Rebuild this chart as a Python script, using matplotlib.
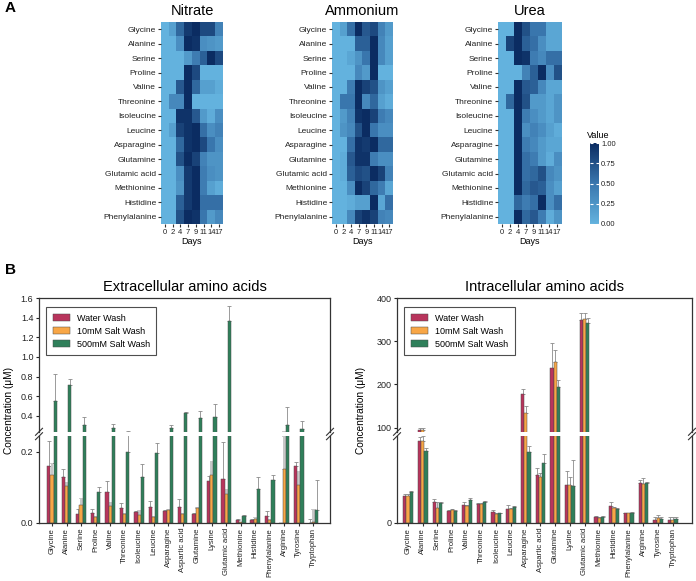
import matplotlib
matplotlib.use('Agg')
import matplotlib.pyplot as plt
import numpy as np
from matplotlib.colors import LinearSegmentedColormap
from matplotlib.lines import Line2D

plt.rcParams['font.family'] = ['Liberation Sans', 'DejaVu Sans']

# ---------------- Panel A data ----------------
heat_rows = ['Glycine', 'Alanine', 'Serine', 'Proline', 'Valine', 'Threonine', 'Isoleucine',
             'Leucine', 'Asparagine', 'Glutamine', 'Glutamic acid', 'Methionine', 'Histidine',
             'Phenylalanine']
days = ['0', '2', '4', '7', '9', '11', '14', '17']

nitrate = [
    [0, 0.15, 0.60, 0.90, 1.00, 0.80, 0.80, 0.40],
    [0, 0.00, 0.30, 1.00, 0.95, 0.30, 0.25, 0.20],
    [0, 0.00, 0.00, 0.20, 0.45, 0.65, 1.00, 0.80],
    [0, 0.00, 0.00, 1.00, 0.80, 0.00, 0.00, 0.00],
    [0, 0.00, 0.70, 1.00, 0.60, 0.15, 0.15, 0.05],
    [0, 0.35, 0.35, 1.00, 0.00, 0.00, 0.00, 0.00],
    [0, 0.00, 0.95, 0.95, 0.70, 0.20, 0.05, 0.30],
    [0, 0.15, 0.85, 0.95, 1.00, 0.55, 0.30, 0.40],
    [0, 0.00, 0.60, 0.95, 1.00, 0.80, 0.50, 0.30],
    [0, 0.00, 0.75, 1.00, 0.85, 0.40, 0.25, 0.25],
    [0, 0.00, 0.30, 0.90, 1.00, 0.45, 0.30, 0.25],
    [0, 0.00, 0.25, 0.90, 1.00, 0.45, 0.15, 0.05],
    [0, 0.00, 0.65, 0.90, 1.00, 0.55, 0.55, 0.55],
    [0, 0.00, 0.75, 1.00, 0.95, 0.50, 0.20, 0.35],
]
ammonium = [
    [0, 0.15, 0.55, 1.00, 0.70, 0.80, 0.40, 0.20],
    [0, 0.00, 0.00, 0.65, 0.65, 1.00, 0.35, 0.15],
    [0, 0.00, 0.10, 0.25, 0.50, 1.00, 0.35, 0.15],
    [0, 0.00, 0.00, 0.35, 0.20, 1.00, 0.00, 0.00],
    [0, 0.00, 0.45, 1.00, 0.85, 0.75, 0.25, 0.15],
    [0, 0.50, 0.50, 1.00, 0.35, 0.60, 0.15, 0.05],
    [0, 0.20, 0.40, 0.95, 1.00, 0.85, 0.45, 0.35],
    [0, 0.25, 0.35, 0.75, 1.00, 0.50, 0.30, 0.30],
    [0, 0.00, 0.55, 0.95, 0.90, 1.00, 0.60, 0.60],
    [0, 0.05, 0.70, 0.95, 0.95, 0.45, 0.30, 0.30],
    [0, 0.05, 0.65, 0.80, 0.75, 1.00, 0.85, 0.40],
    [0, 0.00, 0.30, 1.00, 0.85, 0.60, 0.45, 0.10],
    [0, 0.00, 0.05, 0.15, 0.15, 1.00, 0.10, 0.55],
    [0, 0.00, 0.35, 0.85, 0.95, 0.85, 0.40, 0.35],
]
urea = [
    [0, 0.00, 1.00, 0.75, 0.50, 0.50, 0.10, 0.10],
    [0, 0.85, 1.00, 0.65, 0.55, 0.30, 0.10, 0.10],
    [0, 0.00, 1.00, 0.95, 0.45, 0.35, 0.55, 0.55],
    [0, 0.00, 0.00, 0.40, 0.65, 1.00, 0.30, 0.75],
    [0, 0.00, 1.00, 0.70, 0.65, 0.35, 0.10, 0.10],
    [0, 0.60, 1.00, 0.75, 0.20, 0.20, 0.10, 0.25],
    [0, 0.00, 1.00, 0.45, 0.30, 0.20, 0.10, 0.25],
    [0, 0.00, 1.00, 0.30, 0.40, 0.30, 0.15, 0.05],
    [0, 0.00, 1.00, 0.45, 0.35, 0.20, 0.10, 0.10],
    [0, 0.00, 1.00, 0.55, 0.45, 0.20, 0.05, 0.30],
    [0, 0.00, 1.00, 0.55, 0.60, 0.75, 0.35, 0.25],
    [0, 0.00, 1.00, 0.60, 0.70, 0.65, 0.30, 0.15],
    [0, 0.00, 0.60, 0.45, 0.55, 1.00, 0.30, 0.55],
    [0, 0.00, 1.00, 0.60, 0.70, 0.45, 0.05, 0.25],
]

# ---------------- Panel B data ----------------
amino = ['Glycine', 'Alanine', 'Serine', 'Proline', 'Valine', 'Threonine', 'Isoleucine',
         'Leucine', 'Asparagine', 'Aspartic acid', 'Glutamine', 'Lysine', 'Glutamic acid',
         'Methionine', 'Histidine', 'Phenylalanine', 'Arginine', 'Tyrosine', 'Tryptophan']
series = ['Water Wash', '10mM Salt Wash', '500mM Salt Wash']

ext_water = [0.161, 0.130, 0.026, 0.029, 0.088, 0.042, 0.030, 0.044, 0.033, 0.046, 0.024,
             0.117, 0.123, 0.008, 0.009, 0.021, 0.0, 0.161, 0.0]
ext_water_err = [0.069, 0.022, 0.014, 0.011, 0.031, 0.014, 0.005, 0.019, 0.005, 0.022, 0.003,
                 0.015, 0.106, 0.003, 0.002, 0.012, 0.0, 0.012, 0.011]
ext_10 = [0.135, 0.103, 0.051, 0.017, 0.049, 0.024, 0.022, 0.016, 0.036, 0.024, 0.042,
          0.134, 0.083, 0.002, 0.011, 0.008, 0.152, 0.107, 0.004]
ext_10_err = [0.034, 0.012, 0.019, 0.003, 0.011, 0.003, 0.015, 0.004, 0.004, 0.003, 0.004,
              0.041, 0.012, 0.001, 0.005, 0.002, 0.094, 0.039, 0.036]
ext_500 = [0.55, 0.72, 0.31, 0.088, 0.28, 0.20, 0.13, 0.196, 0.28, 0.43, 0.38,
           0.39, 1.37, 0.019, 0.096, 0.122, 0.31, 0.27, 0.038]
ext_500_err = [0.28, 0.06, 0.08, 0.012, 0.04, 0.047, 0.036, 0.029, 0.03, 0.015, 0.07,
               0.13, 0.15, 0.003, 0.034, 0.014, 0.18, 0.08, 0.082]

int_water = [30.7, 93.9, 24.0, 13.8, 20.3, 21.5, 12.3, 16.0, 179, 55.6, 237,
             43.7, 348, 6.9, 19.2, 11.0, 46.0, 3.8, 3.8]
int_water_err = [3, 5, 4, 1, 4, 1, 3, 5, 10, 8, 59, 16, 17, 1, 5.3, 1, 4, 3, 3]
int_10 = [30.7, 94.6, 17.6, 15.0, 19.2, 22.2, 10.3, 15.7, 133, 53.3, 253,
          43.3, 352, 6.1, 17.2, 11.0, 45.2, 5.7, 3.8]
int_10_err = [3, 5, 7, 1, 2, 1, 1, 1, 17, 4.5, 27, 9, 13, 1, 1, 1, 7, 3, 3]
int_500 = [36, 82.4, 23, 13.8, 26.8, 23.8, 11, 18.4, 81.2, 69, 194,
           42.5, 342, 6.5, 16.5, 12, 45.6, 4.2, 4.2]
int_500_err = [1, 4, 1, 1, 2.5, 1, 1, 1, 7.5, 10, 16, 30, 12, 1, 1, 1, 2, 3, 3]

colors = ['#b8345c', '#f8a646', '#2f7f5a']

W, H = 696, 581
fig = plt.figure(figsize=(W / 100, H / 100), dpi=100)


def ax_px(l, t, r, b):
    return fig.add_axes([l / W, 1 - b / H, (r - l) / W, (b - t) / H])


# ---------------- Panel A ----------------
cmap = LinearSegmentedColormap.from_list('hm', ['#63b2de', '#3a77ae', '#0b2c62'])
im = None
for name, data, l, r in [('Nitrate', nitrate, 161, 223),
                         ('Ammonium', ammonium, 332, 393),
                         ('Urea', urea, 498, 561)]:
    ax = ax_px(l, 22, r, 224)
    im = ax.imshow(np.array(data), cmap=cmap, vmin=0, vmax=1, aspect='auto',
                   interpolation='nearest')
    ax.set_yticks(range(len(heat_rows)))
    ax.set_yticklabels(heat_rows, fontsize=6, color='#222222')
    ax.set_xticks(range(len(days)))
    ax.set_xticklabels(days, fontsize=5.5, color='#222222')
    ax.tick_params(length=2, width=0.8, pad=1.5, color='#333333')
    for s in ax.spines.values():
        s.set_visible(False)
    ax.set_xlabel('Days', fontsize=6.5, labelpad=1)
    ax.set_title(name, fontsize=10.5, pad=5)

cax = ax_px(590, 143, 599, 224)
cb = fig.colorbar(im, cax=cax, ticks=[0, 0.25, 0.5, 0.75, 1.0])
cb.ax.set_yticklabels(['0.00', '0.25', '0.50', '0.75', '1.00'], fontsize=5.5, color='#222222')
cb.outline.set_visible(False)
cb.ax.tick_params(direction='in', color='white', length=2, width=0.8, pad=1.5,
                  left=True, right=True)
fig.text(587 / W, 1 - 136 / H, 'Value', fontsize=6.5, ha='left', va='center')

fig.text(5 / W, 1 - 8 / H, 'A', fontsize=11, fontweight='bold', ha='left', va='center')
fig.text(5 / W, 1 - 270 / H, 'B', fontsize=11, fontweight='bold', ha='left', va='center')


# ---------------- Panel B ----------------
def break_marks(xpx, ypx):
    for d in (-2.2, 2.2):
        x0, y0 = xpx - 3.5, ypx + d + 3.5
        x1, y1 = xpx + 3.5, ypx + d - 3.5
        fig.add_artist(Line2D([x0 / W, x1 / W], [1 - y0 / H, 1 - y1 / H],
                              transform=fig.transFigure, color='#333333', lw=0.8))


def bar_panel(title, l, r, vals, errs, top_lim, bot_lim, top_ticks, bot_ticks,
              top_labels, bot_labels, xlim, ylab_x, gray_box):
    axt = ax_px(l, 298, r, 432)
    axb = ax_px(l, 436, r, 523)
    x = np.arange(len(amino))
    w = 0.22
    for ax in (axt, axb):
        for k in range(3):
            xs = x + (k - 1) * w
            ax.bar(xs, vals[k], width=w, color=colors[k], edgecolor='#4a4a4a',
                   linewidth=0.35, label=series[k], zorder=2)
            if gray_box and k == 1:
                ax.bar(xs, errs[k], bottom=vals[k], width=w * 0.9, color='#c8c8c8',
                       edgecolor='none', zorder=1.5)
            ax.errorbar(xs, vals[k], yerr=[np.zeros(len(x)), errs[k]], fmt='none',
                        ecolor='#8a8a8a', elinewidth=0.6, capsize=1.3, capthick=0.6,
                        zorder=1)
        ax.set_xlim(*xlim)
        for s in ax.spines.values():
            s.set_linewidth(0.9)
            s.set_color('#333333')
        ax.tick_params(axis='y', labelsize=6.5, length=2.5, width=0.8, pad=1.5,
                       colors='#222222')
    axt.set_ylim(*top_lim)
    axb.set_ylim(*bot_lim)
    axt.set_yticks(top_ticks)
    axt.set_yticklabels(top_labels)
    axb.set_yticks(bot_ticks)
    axb.set_yticklabels(bot_labels)
    axt.spines['bottom'].set_visible(False)
    axb.spines['top'].set_visible(False)
    axt.tick_params(axis='x', bottom=False, labelbottom=False)
    axb.set_xticks(x)
    axb.set_xticklabels(amino, rotation=90, fontsize=5.6, color='#222222')
    axb.tick_params(axis='x', length=2, width=0.8, pad=1.5, color='#333333')
    axt.set_title(title, fontsize=10.5, pad=5)
    leg = axt.legend(loc='upper left', bbox_to_anchor=(0.025, 0.93), borderaxespad=0,
                     fontsize=6.5, frameon=True, fancybox=False, edgecolor='#222222',
                     handlelength=1.9, handleheight=0.9, labelspacing=0.45,
                     borderpad=0.7, handletextpad=0.8)
    leg.get_frame().set_linewidth(0.8)
    break_marks(l, 434)
    break_marks(r, 434)
    fig.text(ylab_x / W, 1 - 410 / H, 'Concentration (\u03bcM)', rotation=90,
             fontsize=7.3, ha='center', va='center')


bar_panel('Extracellular amino acids', 39, 330,
          [ext_water, ext_10, ext_500], [ext_water_err, ext_10_err, ext_500_err],
          (0.237, 1.6), (0, 0.245),
          [0.4, 0.6, 0.8, 1.0, 1.2, 1.4, 1.6], [0.0, 0.2],
          ['0.4', '0.6', '0.8', '1.0', '1.2', '1.4', '1.6'], ['0.0', '0.2'],
          (-0.9, 19.15), 9, True)

bar_panel('Intracellular amino acids', 397, 692,
          [int_water, int_10, int_500], [int_water_err, int_10_err, int_500_err],
          (90, 400), (0, 100),
          [100, 200, 300, 400], [0],
          ['100', '200', '300', '400'], ['0'],
          (-0.75, 19.3), 361, False)

fig.savefig('out.png', dpi=100)
